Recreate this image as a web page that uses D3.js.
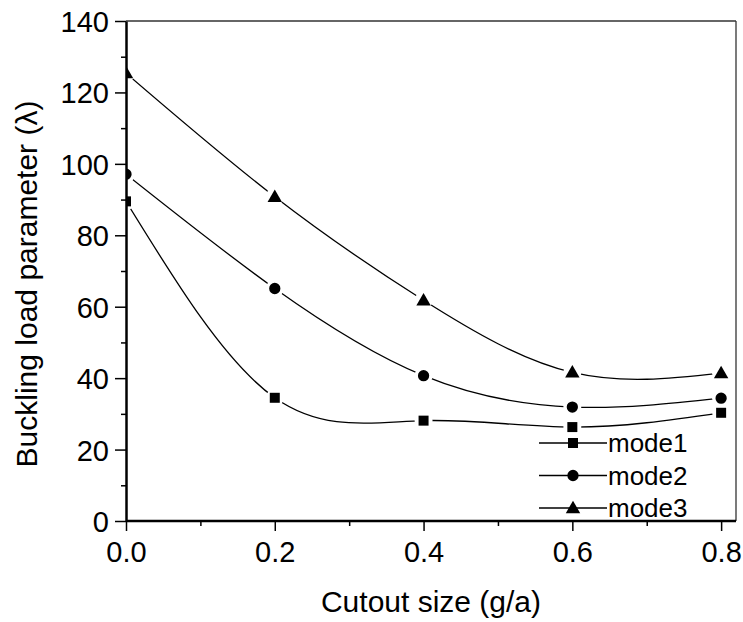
<!DOCTYPE html>
<html><head><meta charset="utf-8">
<script src="https://cdn.jsdelivr.net/npm/d3@7"></script>
<style>
body{margin:0;background:#fff;}
svg{display:block;font-family:"Liberation Sans",Arial,sans-serif;}
</style></head>
<body><svg id="c" width="743" height="622"></svg>
<script>
const cutout = [0, 0.2, 0.4, 0.6, 0.8];
const mode1 = [89.5, 34.5, 28.1, 26.3, 30.3];
const mode2 = [97.1, 65.1, 40.7, 31.9, 34.4];
const mode3 = [125.4, 90.8, 61.8, 41.6, 41.4];
const seriesNames = ["mode1", "mode2", "mode3"];
const xTickValues = [0, 0.2, 0.4, 0.6, 0.8];
const xMinorValues = [0.1, 0.3, 0.5, 0.7];
const yTickValues = [0, 20, 40, 60, 80, 100, 120, 140];
const yMinorValues = [10, 30, 50, 70, 90, 110, 130];

const svg = d3.select("#c");
const L = 126, R = 736, T = 21, B = 521;
const x = d3.scaleLinear().domain([0, 0.82]).range([L, R]);
const y = d3.scaleLinear().domain([0, 140]).range([B, T]);

const series = [
  {name: seriesNames[0], values: mode1, sym: d3.symbolSquare, size: 100},
  {name: seriesNames[1], values: mode2, sym: d3.symbolCircle, size: 100},
  {name: seriesNames[2], values: mode3, sym: d3.symbolTriangle, size: 90}
];

const defs = svg.append("defs");
defs.append("clipPath").attr("id", "plotclip").append("rect")
  .attr("x", L).attr("y", T).attr("width", R - L).attr("height", B - T);

series.forEach((s, i) => {
  const m = defs.append("mask").attr("id", "gap" + i).attr("maskUnits", "userSpaceOnUse")
    .attr("x", 0).attr("y", 0).attr("width", 743).attr("height", 622);
  m.append("rect").attr("x", 0).attr("y", 0).attr("width", 743).attr("height", 622).attr("fill", "#fff");
  s.values.forEach((v, j) => {
    m.append("circle").attr("cx", x(cutout[j])).attr("cy", y(v)).attr("r", 9).attr("fill", "#000");
  });
});

// frame top/right
svg.append("line").attr("x1", L).attr("x2", R).attr("y1", T).attr("y2", T)
  .attr("stroke", "#333").attr("stroke-width", 1.3);
svg.append("line").attr("x1", R).attr("x2", R).attr("y1", T).attr("y2", B)
  .attr("stroke", "#333").attr("stroke-width", 1.3);

const plot = svg.append("g").attr("clip-path", "url(#plotclip)");
const line = d3.line().curve(d3.curveNatural).x((d, j) => x(cutout[j])).y(d => y(d));

series.forEach((s, i) => {
  plot.append("path").datum(s.values).attr("d", line)
    .attr("fill", "none").attr("stroke", "#000").attr("stroke-width", 1.3)
    .attr("mask", "url(#gap" + i + ")");
  plot.selectAll(".m" + i).data(s.values).enter().append("path")
    .attr("transform", (d, j) => `translate(${x(cutout[j])},${y(d) + (s.sym === d3.symbolTriangle ? 1 : 0)})`)
    .attr("d", d3.symbol().type(s.sym).size(s.size))
    .attr("fill", "#000");
});

// axes
function styleAxis(g) {
  g.select(".domain").attr("stroke", "#000").attr("stroke-width", 2.5);
  g.selectAll(".tick line").attr("stroke", "#000").attr("stroke-width", 1.5);
  g.selectAll(".tick text").attr("fill", "#000").style("font-size", "29px")
    .style("font-family", '"Liberation Sans",Arial,sans-serif');
}
const yAxis = svg.append("g").attr("transform", `translate(${L},0)`)
  .call(d3.axisLeft(y).tickValues(yTickValues).tickSize(11).tickSizeOuter(0).tickPadding(6).tickFormat(d3.format("d")));
styleAxis(yAxis);
yAxis.selectAll(".tick text").attr("dy", "0.36em");
const yMinor = svg.append("g").attr("transform", `translate(${L},0)`)
  .call(d3.axisLeft(y).tickValues(yMinorValues).tickSize(5).tickFormat(""));
yMinor.select(".domain").remove();
yMinor.selectAll(".tick line").attr("stroke", "#000").attr("stroke-width", 1.5);

const xAxis = svg.append("g").attr("transform", `translate(0,${B})`)
  .call(d3.axisBottom(x).tickValues(xTickValues).tickSize(10).tickSizeOuter(0).tickPadding(10).tickFormat(d3.format(".1f")));
styleAxis(xAxis);
xAxis.select(".domain").attr("d", `M${L},0H${R}`);
const xMinor = svg.append("g").attr("transform", `translate(0,${B})`)
  .call(d3.axisBottom(x).tickValues(xMinorValues).tickSize(5).tickFormat(""));
xMinor.select(".domain").remove();
xMinor.selectAll(".tick line").attr("stroke", "#000").attr("stroke-width", 1.5);

// titles
svg.append("text").attr("x", (L + R) / 2).attr("y", 612).attr("text-anchor", "middle")
  .style("font-size", "30px").text("Cutout size (g/a)");
svg.append("text").attr("transform", `translate(37,284) rotate(-90)`).attr("text-anchor", "middle")
  .style("font-size", "30px").text("Buckling load parameter (λ)");

// legend
const leg = svg.append("g");
series.forEach((s, i) => {
  const ly = 443 + i * 32.5;
  leg.append("line").attr("x1", 539).attr("x2", 607).attr("y1", ly).attr("y2", ly)
    .attr("stroke", "#000").attr("stroke-width", 1.3);
  leg.append("path").attr("transform", `translate(573,${ly + (s.sym === d3.symbolTriangle ? 1 : 0)})`)
    .attr("d", d3.symbol().type(s.sym).size(s.size)).attr("fill", "#000");
  leg.append("text").attr("x", 608).attr("y", ly + 9).style("font-size", "26px").text(s.name);
});
</script></body></html>
